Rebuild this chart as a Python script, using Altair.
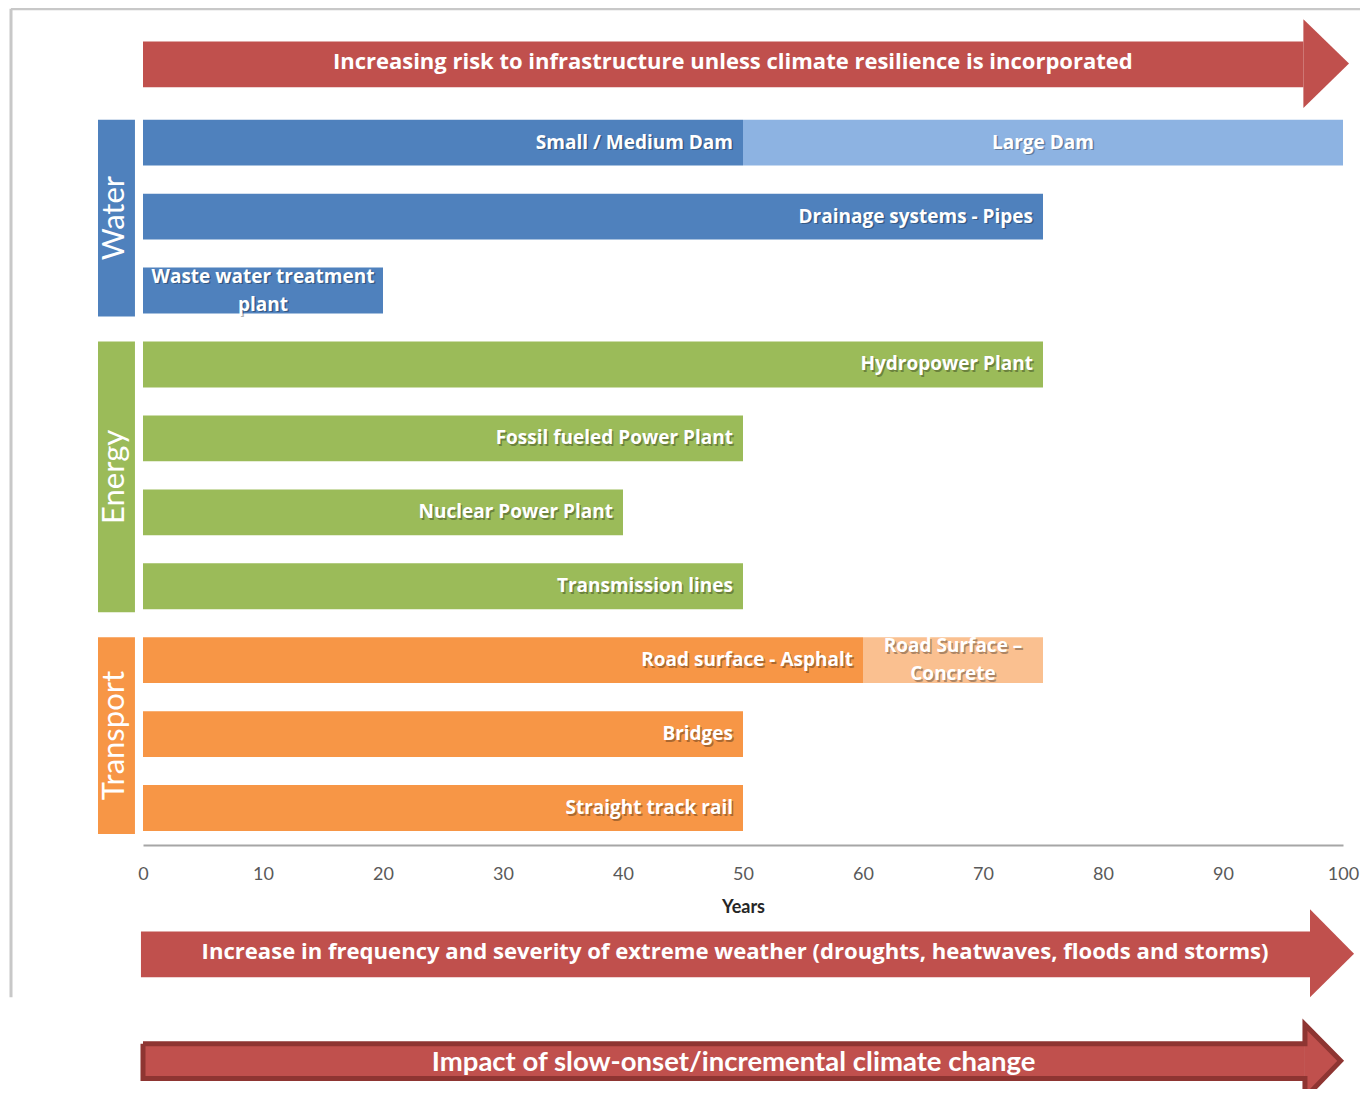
import altair as alt
import pandas as pd

# ---------------- data ----------------
bar_labels = ["Small / Medium Dam", "Large Dam", "Drainage systems - Pipes",
              "Waste water treatment\nplant", "Hydropower Plant",
              "Fossil fueled Power Plant", "Nuclear Power Plant", "Transmission lines",
              "Road surface - Asphalt", "Road Surface \u2013\nConcrete", "Bridges",
              "Straight track rail"]
bar_rows = [0, 0, 1, 2, 3, 4, 5, 6, 7, 7, 8, 9]
bar_start = [0, 50, 0, 0, 0, 0, 0, 0, 0, 60, 0, 0]
bar_end = [50, 100, 75, 20, 75, 50, 40, 50, 60, 75, 50, 50]
bar_sector = ["Water", "Water", "Water", "Water", "Energy", "Energy", "Energy", "Energy",
              "Transport", "Transport", "Transport", "Transport"]
bar_shade = ["dark", "light", "dark", "dark", "dark", "dark", "dark", "dark",
             "dark", "light", "dark", "dark"]
label_anchor = ["end", "middle", "end", "middle", "end", "end", "end", "end",
                "end", "middle", "end", "end"]

sectors = ["Water", "Energy", "Transport"]
sector_first_row = [0, 3, 7]
sector_last_row = [2, 6, 9]

arrow_texts = [
    "Increasing risk to infrastructure unless climate resilience is incorporated",
    "Increase in frequency and severity of extreme weather (droughts, heatwaves, floods and storms)",
    "Impact of slow-onset/incremental climate change",
]
x_ticks = [0, 10, 20, 30, 40, 50, 60, 70, 80, 90, 100]

# ---------------- styles / layout ----------------
colors = {
    ("Water", "dark"): "#4F81BD", ("Water", "light"): "#8DB3E2",
    ("Energy", "dark"): "#9BBB59", ("Energy", "light"): "#C3D69B",
    ("Transport", "dark"): "#F79646", ("Transport", "light"): "#FAC090",
}
RED = "#C0504D"
DARKRED = "#8E3532"
FONT = "Lato"
WIDEFONT = "Open Sans"
HALF = 0.31
LINE_H = 28

bars = pd.DataFrame({
    "label": bar_labels, "row": bar_rows, "start": bar_start, "end": bar_end,
    "sector": bar_sector, "shade": bar_shade, "anchor": label_anchor,
})
bars["y1"] = bars["row"] - HALF
bars["y2"] = bars["row"] + HALF
bars["color"] = [colors[(s, h)] for s, h in zip(bars["sector"], bars["shade"])]
bars["mid"] = (bars["start"] + bars["end"]) / 2
bars["nlines"] = [lab.count("\n") + 1 for lab in bars["label"]]

cats = pd.DataFrame({"sector": sectors, "r0": sector_first_row, "r1": sector_last_row})
cats["y1"] = cats["r0"] - HALF
cats["y2"] = cats["r1"] + 0.35
cats["ym"] = (cats["y1"] + cats["y2"]) / 2
cats["x1"] = -3.75
cats["x2"] = -0.67
cats["xm"] = (cats["x1"] + cats["x2"]) / 2 - 0.1
cats["color"] = [colors[(s, "dark")] for s in sectors]

# arrow geometry (layout)
arrow_geo = [
    dict(x0=0.0, x1=96.7, yt=-1.37, yb=-0.75, ht=-1.67, hb=-0.47, tx=100.5, ty=-1.07,
         texty=-1.09, size=22, font=WIDEFONT),
    dict(x0=-0.17, x1=97.25, yt=10.67, yb=11.29, ht=10.37, hb=11.56, tx=100.92, ty=10.97,
         texty=10.95, size=22.1, font=WIDEFONT),
    dict(x0=0.0, x1=96.83, yt=12.19, yb=12.66, ht=11.93, hb=12.92, tx=99.8, ty=12.42,
         texty=12.45, size=27.5, font=FONT),
]
bodies = pd.DataFrame([dict(id=i, x0=g["x0"], x1=g["x1"], yt=g["yt"], yb=g["yb"])
                       for i, g in enumerate(arrow_geo)])
heads = []
for i, g in enumerate(arrow_geo):
    heads.append(dict(id=i, x=g["x1"], y=g["ht"], y2=g["hb"]))
    heads.append(dict(id=i, x=g["tx"], y=g["ty"], y2=g["ty"]))
heads = pd.DataFrame(heads)
atext = pd.DataFrame({
    "text": arrow_texts,
    "x": [(g["x0"] + g["x1"]) / 2 + 0.8 for g in arrow_geo],
    "y": [g["texty"] for g in arrow_geo],
    "size": [g["size"] for g in arrow_geo],
    "font": [g["font"] for g in arrow_geo],
})
g = arrow_geo[2]
outline = pd.DataFrame({
    "o": list(range(8)),
    "x": [g["x0"], g["x1"], g["x1"], g["tx"], g["x1"], g["x1"], g["x0"], g["x0"]],
    "y": [g["yt"], g["yt"], g["ht"], g["ty"], g["hb"], g["yb"], g["yb"], g["yt"]],
})

frame = pd.DataFrame({"x": [-11.0, -11.0], "x2": [-11.0, 103.0],
                      "y": [-1.81, -1.81], "y2": [11.56, -1.81]})

xs = alt.Scale(domain=[0, 100], nice=False, zero=False)
ys = alt.Scale(domain=[-1.7, 9.5], reverse=True, nice=False, zero=False)
xaxis = alt.Axis(values=x_ticks, title="Years", grid=False, ticks=False, domainColor="#A6A6A6",
                 domainWidth=2, labelFont=FONT, labelFontSize=18, labelColor="#595959",
                 labelPadding=20, labelFlush=False, titleFont=FONT, titleFontSize=18,
                 titleFontWeight="bold", titleColor="#262626", titlePadding=15)


def X(f):
    return alt.X(f, type="quantitative", scale=xs, axis=xaxis)


def Y(f):
    return alt.Y(f, type="quantitative", scale=ys, axis=None)


frame_layer = alt.Chart(frame).mark_rule(color="#C8C8C8", strokeWidth=3).encode(
    x=X("x"), x2="x2", y=Y("y"), y2="y2")

body_layer = alt.Chart(bodies).mark_rect(color=RED).encode(
    x=X("x0"), x2="x1", y=Y("yt"), y2="yb")
head_layer = alt.Chart(heads).mark_area(color=RED, opacity=1).encode(
    x=X("x"), y=Y("y"), y2="y2", detail="id:N")
outline_layer = alt.Chart(outline).mark_line(color=DARKRED, strokeWidth=5,
                                             strokeJoin="miter").encode(
    x=X("x"), y=Y("y"), order="o:Q")


def arrow_text_layer(i):
    row = atext.iloc[[i]]
    return alt.Chart(row).mark_text(font=row["font"].iloc[0], fontWeight="bold", color="white",
                                    baseline="middle", align="center",
                                    fontSize=float(row["size"].iloc[0])).encode(
        x=X("x"), y=Y("y"), text="text:N")


cat_layer = alt.Chart(cats).mark_rect().encode(
    x=X("x1"), x2="x2", y=Y("y1"), y2="y2", color=alt.Color("color:N", scale=None))
cat_text = alt.Chart(cats).mark_text(font=FONT, fontSize=31, color="white", angle=270,
                                     baseline="middle", align="center").encode(
    x=X("xm"), y=Y("ym"), text="sector:N")

bar_layer = alt.Chart(bars).mark_rect().encode(
    x=X("start"), x2="end", y=Y("y1"), y2="y2", color=alt.Color("color:N", scale=None))


def label_layers(df, field, align, dx):
    out = []
    for n in sorted(df["nlines"].unique()):
        sub = df[df["nlines"] == n]
        dy = -(n - 1) * LINE_H / 2
        base = dict(font=WIDEFONT, fontWeight="bold", fontSize=19, baseline="middle",
                    align=align, lineHeight=LINE_H, lineBreak="\n")
        out.append(alt.Chart(sub).mark_text(color="black", opacity=0.3, dx=dx + 1.5,
                                            dy=dy + 1.5, **base).encode(
            x=X(field), y=Y("row"), text="label:N"))
        out.append(alt.Chart(sub).mark_text(color="white", dx=dx, dy=dy, **base).encode(
            x=X(field), y=Y("row"), text="label:N"))
    return out


layers = [frame_layer, body_layer, head_layer, outline_layer]
layers += [arrow_text_layer(i) for i in range(3)]
layers += [cat_layer, cat_text, bar_layer]
layers += label_layers(bars[bars["anchor"] == "end"], "end", "right", -10)
layers += label_layers(bars[bars["anchor"] == "middle"], "mid", "center", 0)

chart = alt.layer(*layers).properties(
    width=1200, height=828,
    padding={"left": 135, "top": 9, "right": 17, "bottom": 244},
    autosize=alt.AutoSizeParams(type="none"),
).configure_view(stroke=None)

chart.save("out.html", embed_options={"renderer": "svg", "actions": False})
